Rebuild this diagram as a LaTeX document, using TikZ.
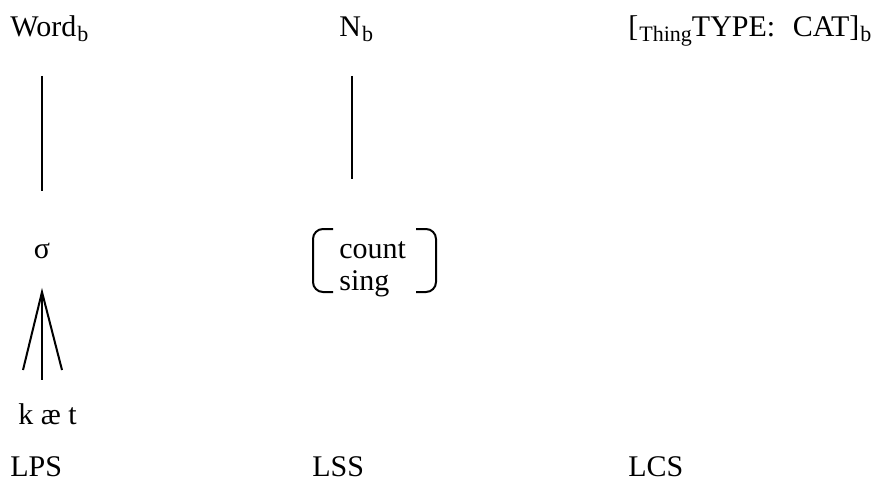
\documentclass[tikz,border=0pt]{standalone}
\usepackage{fontspec}
\setmainfont{Liberation Serif}
\newcommand\lsub[1]{\kern0.5pt\raisebox{-2.5pt}{\fontsize{11}{12}\selectfont #1}}
\tikzset{
  lbl/.style={anchor=base west, inner sep=0pt, font=\fontsize{15}{18}\selectfont},
  tie/.style={line width=1pt},
}
\begin{document}
\begin{tikzpicture}[x=0.5pt, y=-0.5pt]
    \useasboundingbox (0,0) rectangle (873,481);
    % the three structures
    \node[lbl] (word) at (10,37) {Word\lsub{b}};
    \node[lbl] (noun) at (339,37) {N\lsub{b}};
    \node[lbl] (thing) at (628,37) {[\lsub{Thing}TYPE:\hspace{5pt} CAT]\lsub{b}};

    % syllable and its segments
    \node[lbl, anchor=base] (syl) at (42,258) {σ};
    \node[lbl] (seg) at (18,424) {k æ t};
    \coordinate (top) at (42,292);
    \coordinate (k) at (23,370);
    \coordinate (ae) at (42,380);
    \coordinate (t) at (62,370);
    \draw[tie] (k) -- (top) -- (t);
    \draw[tie] (top) -- (ae);

    % features of the noun
    \node[lbl] (count) at (339,258) {count};
    \node[lbl] (sing) at (339,290) {sing};
    \draw[tie, rounded corners=5pt] (333,229) -| (313,292) -- (333,292);
    \draw[tie, rounded corners=5pt] (416,229) -| (436,292) -- (416,292);

    % links down from the top row
    \coordinate (w1) at (42,76);
    \coordinate (w2) at (42,191);
    \coordinate (n1) at (352,76);
    \coordinate (n2) at (352,179);
    \draw[tie] (w1) -- (w2);
    \draw[tie] (n1) -- (n2);

    % level names
    \node[lbl] (lps) at (10,476) {LPS};
    \node[lbl] (lss) at (312,476) {LSS};
    \node[lbl] (lcs) at (628,476) {LCS};
\end{tikzpicture}
\end{document}
